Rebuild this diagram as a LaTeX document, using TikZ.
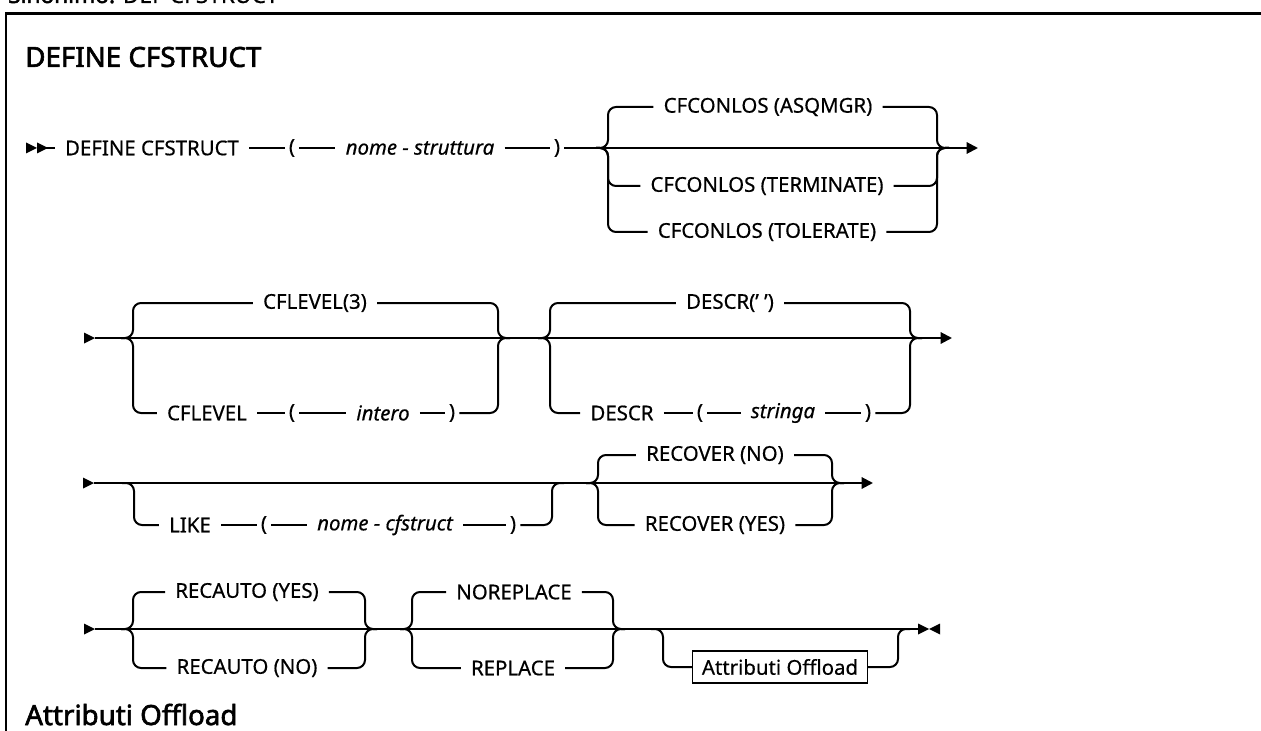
\documentclass[tikz,border=0pt]{standalone}
\usepackage{fontspec}
\setmainfont{Noto Sans}[FakeBold=0.5]
\newfontfamily\headfam{Noto Sans}[FakeBold=2.2]
\usetikzlibrary{arrows.meta}

\newcommand\railfont{\fontsize{15.3}{18}\selectfont}
\newcommand\headfont{\headfam\fontsize{20.8}{25}\selectfont}

\tikzset{
  rail/.style={line width=1.5pt,rounded corners=6pt},
  kw/.style={inner xsep=7.5pt,inner ysep=2pt,font=\railfont},
  var/.style={kw,font=\railfont\itshape},
  paren/.style={kw,inner xsep=3pt},
  endtip/.style={-{Triangle[length=8.5pt,width=8.5pt]}},
  pics/railstart/.style={code={\fill (0,0) -- (-11,-5.5) -- (-11,5.5) -- cycle;}},
  pics/railstop/.style={code={\fill (0,0) -- (11,-5.5) -- (11,5.5) -- cycle;}}
}

\begin{document}
\begin{tikzpicture}[x=0.75pt,y=-0.75pt]
  \useasboundingbox (0,0) rectangle (1261,731);
  % frame and headings
  \draw[line width=2pt] (6,745) -- (6,13.5) -- (1275,13.5);
  \node[anchor=base west,inner sep=0pt,font=\fontsize{17}{20}\selectfont] (syn) at (8,3) {{\headfam Sinonimo:} DEF CFSTRUCT};
  \node[anchor=west,inner sep=0pt,font=\headfont] (title) at (25,57) {DEFINE CFSTRUCT};
  \node[anchor=base west,inner sep=0pt,font=\headfont] (offh) at (25,725) {Attributi Offload};

  % row 1
  \coordinate (s1) at (37,148);
  \coordinate (e1) at (978,148);
  \pic at (37,148) {railstart};
  \pic at (48,148) {railstart};
  \node[kw] (def) at (152,148) {DEFINE CFSTRUCT};
  \node[paren] (lp1) at (292,148) {(};
  \node[var] (snm) at (420,148) {nome - struttura};
  \node[paren] (rp1) at (557,148) {)};
  \draw[rail] (s1) -- (def);
  \draw[rail] (def) -- (lp1);
  \draw[rail] (lp1) -- (snm);
  \draw[rail] (snm) -- (rp1);
  \draw[rail,endtip] (rp1) -- (e1);
  \coordinate (f1a) at (596,148);
  \coordinate (f1l) at (608,148);
  \coordinate (f1r) at (937,148);
  \coordinate (f1b) at (949,148);
  \node[kw] (asq) at (768,107) {CFCONLOS (ASQMGR)};
  \node[kw] (ter) at (767,186) {CFCONLOS (TERMINATE)};
  \node[kw] (tol) at (767,232) {CFCONLOS (TOLERATE)};
  \foreach \n in {asq,ter,tol}{
    \draw[rail] (f1a) -| (f1l |- \n) -- (\n);
    \draw[rail] (\n) -- (f1r |- \n) |- (f1b);
  }

  % row 2
  \coordinate (s2) at (95,338);
  \coordinate (e2) at (952,338);
  \pic at (95,338) {railstart};
  \draw[rail,endtip] (s2) -- (e2);
  \coordinate (f2a) at (121,338);
  \coordinate (f2l) at (133,338);
  \coordinate (f2r) at (498,338);
  \coordinate (f2b) at (510,338);
  \node[kw] (lev3) at (315,303) {CFLEVEL(3)};
  \node[kw] (lev) at (207,413) {CFLEVEL};
  \node[paren] (lp2) at (292,413) {(};
  \node[var] (int) at (383,413) {intero};
  \node[paren] (rp2) at (452,413) {)};
  \draw[rail] (f2a) -| (f2l |- lev3) -- (lev3);
  \draw[rail] (lev3) -- (f2r |- lev3) |- (f2b);
  \draw[rail] (f2a) -| (f2l |- lev) -- (lev);
  \draw[rail] (lev) -- (lp2);
  \draw[rail] (lp2) -- (int);
  \draw[rail] (int) -- (rp2);
  \draw[rail] (rp2) -- (f2r |- rp2) |- (f2b);
  \coordinate (f3a) at (538,338);
  \coordinate (f3l) at (550,338);
  \coordinate (f3r) at (910,338);
  \coordinate (f3b) at (922,338);
  \node[kw] (dsc0) at (730,303) {DESCR(' ')};
  \node[kw] (dsc) at (622,413) {DESCR};
  \node[paren] (lp3) at (700,413) {(};
  \node[var] (str) at (783,413) {stringa};
  \node[paren] (rp3) at (868,413) {)};
  \draw[rail] (f3a) -| (f3l |- dsc0) -- (dsc0);
  \draw[rail] (dsc0) -- (f3r |- dsc0) |- (f3b);
  \draw[rail] (f3a) -| (f3l |- dsc) -- (dsc);
  \draw[rail] (dsc) -- (lp3);
  \draw[rail] (lp3) -- (str);
  \draw[rail] (str) -- (rp3);
  \draw[rail] (rp3) -- (f3r |- rp3) |- (f3b);

  % row 3
  \coordinate (s3) at (94,483);
  \coordinate (e3) at (873,483);
  \pic at (94,483) {railstart};
  \draw[rail,endtip] (s3) -- (e3);
  \coordinate (o3a) at (122,483);
  \coordinate (o3l) at (134,483);
  \coordinate (o3r) at (552,483);
  \coordinate (o3b) at (564,483);
  \node[kw] (like) at (190,525) {LIKE};
  \node[paren] (lp4) at (264,525) {(};
  \node[var] (ncf) at (385,525) {nome - cfstruct};
  \node[paren] (rp4) at (513,525) {)};
  \draw[rail] (o3a) -| (o3l |- like) -- (like);
  \draw[rail] (like) -- (lp4);
  \draw[rail] (lp4) -- (ncf);
  \draw[rail] (ncf) -- (rp4);
  \draw[rail] (rp4) -- (o3r |- rp4) |- (o3b);
  \coordinate (f4a) at (586,483);
  \coordinate (f4l) at (598,483);
  \coordinate (f4r) at (832,483);
  \coordinate (f4b) at (844,483);
  \node[kw] (rno) at (715,455) {RECOVER (NO)};
  \node[kw] (ryes) at (715,525) {RECOVER (YES)};
  \foreach \n in {rno,ryes}{
    \draw[rail] (f4a) -| (f4l |- \n) -- (\n);
    \draw[rail] (\n) -- (f4r |- \n) |- (f4b);
  }

  % row 4
  \coordinate (s4) at (95,629);
  \coordinate (e4) at (918,629);
  \pic at (95,629) {railstart};
  \draw[rail] (s4) -- (e4);
  \pic at (929,629) {railstart};
  \pic at (929,629) {railstop};
  \coordinate (f5a) at (121,629);
  \coordinate (f5l) at (133,629);
  \coordinate (f5r) at (365,629);
  \coordinate (f5b) at (377,629);
  \node[kw] (ayes) at (247,592) {RECAUTO (YES)};
  \node[kw] (ano) at (247,668) {RECAUTO (NO)};
  \foreach \n in {ayes,ano}{
    \draw[rail] (f5a) -| (f5l |- \n) -- (\n);
    \draw[rail] (\n) -- (f5r |- \n) |- (f5b);
  }
  \coordinate (f6a) at (400,629);
  \coordinate (f6l) at (412,629);
  \coordinate (f6r) at (613,629);
  \coordinate (f6b) at (625,629);
  \node[kw] (norep) at (514,592) {NOREPLACE};
  \node[kw] (rep) at (513,668) {REPLACE};
  \foreach \n in {norep,rep}{
    \draw[rail] (f6a) -| (f6l |- \n) -- (\n);
    \draw[rail] (\n) -- (f6r |- \n) |- (f6b);
  }
  \coordinate (o4a) at (651,629);
  \coordinate (o4l) at (663,629);
  \coordinate (o4r) at (898,629);
  \coordinate (o4b) at (910,629);
  \node[draw,line width=1.1pt,font=\railfont,minimum width=131pt,minimum height=24pt,inner sep=0pt] (off) at (780,667) {Attributi Offload};
  \draw[rail] (o4a) -| (o4l |- off) -- (off);
  \draw[rail] (off) -- (o4r |- off) |- (o4b);
\end{tikzpicture}
\end{document}
